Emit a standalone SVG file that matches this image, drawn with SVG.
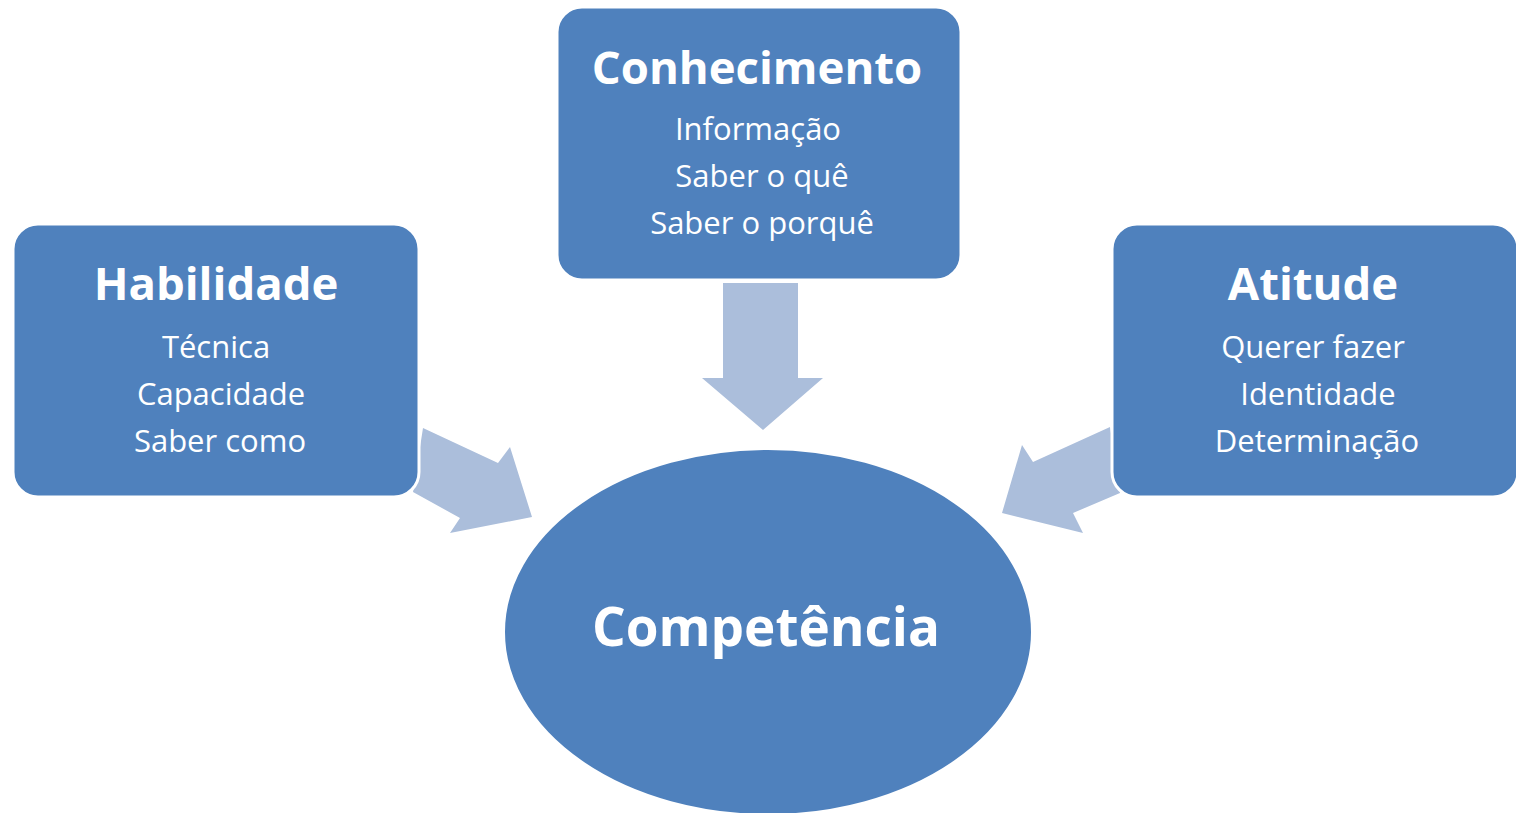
<svg xmlns="http://www.w3.org/2000/svg" width="1516" height="813" viewBox="0 0 1516 813">
<style>
.box{fill:#4F81BD;stroke:#FFFFFF;stroke-width:3}
.arrow{fill:#ABBEDB}
.t{font-family:"Open Sans","Liberation Sans",sans-serif;fill:#FFFFFF;text-anchor:middle}
.h{font-weight:bold;font-size:45.5px}
.s{font-size:31px}
.c{font-weight:bold;font-size:53px}
</style>
<rect width="1516" height="813" fill="#FFFFFF"/>
<g id="connectors">
<polygon class="arrow" points="723,283 798,283 798,378 823,378 763,430 702,378 723,378"/>
<polygon class="arrow" points="423,428 498,463 510,447 532,517 450,533 460,518 413,492"/>
<polygon class="arrow" points="1110,427 1033,462 1022,445 1002,513 1083,533 1073,513 1120,493"/>
</g>
<g id="habilidade">
<rect class="box" x="13" y="224" width="406" height="273" rx="25"/>
<text class="t h" x="216" y="300">Habilidade</text>
<text class="t s" x="216" y="358">Técnica</text>
<text class="t s" x="221" y="405">Capacidade</text>
<text class="t s" x="220" y="452">Saber como</text>
</g>
<g id="conhecimento">
<rect class="box" x="557" y="7" width="404" height="273" rx="25"/>
<text class="t h" x="757" y="84">Conhecimento</text>
<text class="t s" x="758" y="140">Informação</text>
<text class="t s" x="762" y="187">Saber o quê</text>
<text class="t s" x="762" y="234">Saber o porquê</text>
</g>
<g id="atitude">
<rect class="box" x="1112" y="224" width="406" height="273" rx="25"/>
<text class="t h" x="1313" y="300">Atitude</text>
<text class="t s" x="1313" y="358">Querer fazer</text>
<text class="t s" x="1318" y="405">Identidade</text>
<text class="t s" x="1317" y="452">Determinação</text>
</g>
<g id="competencia">
<ellipse cx="768" cy="632" rx="264" ry="183" fill="#4F81BD" stroke="#FFFFFF" stroke-width="2"/>
<text class="t c" x="766" y="646">Competência</text>
</g>
</svg>
